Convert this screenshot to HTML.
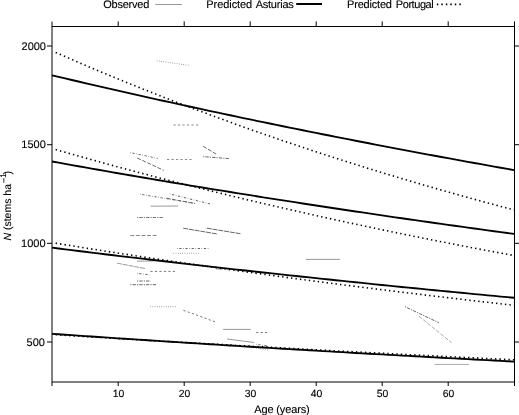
<!DOCTYPE html>
<html><head><meta charset="utf-8"><style>
html,body{margin:0;padding:0;background:#fff;}
body{width:519px;height:415px;overflow:hidden;}
svg{display:block;will-change:transform;font-family:"Liberation Sans",sans-serif;font-size:11px;text-rendering:geometricPrecision;}
</style></head><body>
<svg width="519" height="415" viewBox="0 0 519 415">
<defs><filter id="b" x="-5%" y="-20%" width="110%" height="140%"><feGaussianBlur stdDeviation="0.35"/></filter></defs>
<rect width="519" height="415" fill="#fff"/>
<g filter="url(#b)" stroke-width="1">
<line x1="156.8" y1="60.8" x2="189.7" y2="65.4" stroke="#666" stroke-dasharray="0.56 1.68"/>
<line x1="173.5" y1="125.0" x2="198.7" y2="125.0" stroke="#888" stroke-dasharray="2.24 2.24"/>
<line x1="130.3" y1="152.6" x2="157.7" y2="158.4" stroke="#666" stroke-dasharray="0.56 1.68 2.24 1.68"/>
<line x1="137.2" y1="158.0" x2="163.8" y2="170.4" stroke="#666" stroke-dasharray="3.92 1.68"/>
<line x1="167.0" y1="159.5" x2="192.4" y2="159.5" stroke="#888" stroke-dasharray="2.24 2.24"/>
<line x1="203.2" y1="146.3" x2="216.8" y2="154.5" stroke="#666" stroke-dasharray="3.92 1.68"/>
<line x1="203.2" y1="156.6" x2="229.9" y2="158.7" stroke="#666" stroke-dasharray="1.12 1.12 3.36 1.12"/>
<line x1="140.1" y1="194.2" x2="195.0" y2="203.4" stroke="#666" stroke-dasharray="0.56 1.68 2.24 1.68"/>
<line x1="166.4" y1="198.2" x2="194.9" y2="203.5" stroke="#666" stroke-dasharray="3.92 1.68"/>
<line x1="169.8" y1="194.0" x2="210.3" y2="204.0" stroke="#666" stroke-dasharray="0.56 1.68 2.24 1.68"/>
<line x1="150.5" y1="206.2" x2="178.0" y2="206.0" stroke="#999"/>
<line x1="137.1" y1="217.5" x2="163.8" y2="217.5" stroke="#777" stroke-dasharray="1.12 1.12 3.36 1.12"/>
<line x1="130.3" y1="235.5" x2="158.1" y2="235.5" stroke="#888" stroke-dasharray="3.92 1.68"/>
<line x1="183.2" y1="228.2" x2="217.3" y2="234.0" stroke="#666" stroke-dasharray="5 0.8"/>
<line x1="206.9" y1="228.2" x2="240.4" y2="233.7" stroke="#666" stroke-dasharray="5 0.8"/>
<line x1="177.0" y1="248.5" x2="209.0" y2="248.5" stroke="#666" stroke-dasharray="0.56 1.68 2.24 1.68"/>
<line x1="173.5" y1="253.3" x2="199.0" y2="253.3" stroke="#666" stroke-dasharray="0.56 1.68"/>
<line x1="117.2" y1="263.2" x2="144.9" y2="268.5" stroke="#999" stroke-dasharray="5 0.8"/>
<line x1="137.0" y1="261.2" x2="154.0" y2="260.9" stroke="#999"/>
<line x1="150.4" y1="271.4" x2="176.0" y2="271.4" stroke="#777" stroke-dasharray="2.24 2.24"/>
<line x1="137.1" y1="273.3" x2="149.6" y2="274.9" stroke="#666" stroke-dasharray="0.56 1.68 2.24 1.68"/>
<line x1="137.1" y1="281.0" x2="150.7" y2="281.0" stroke="#666" stroke-dasharray="1.12 1.12 3.36 1.12"/>
<line x1="130.3" y1="284.7" x2="157.1" y2="284.7" stroke="#666" stroke-dasharray="1.12 1.12 3.36 1.12"/>
<line x1="150.3" y1="306.7" x2="176.0" y2="306.7" stroke="#666" stroke-dasharray="0.56 1.68"/>
<line x1="183.4" y1="310.3" x2="215.9" y2="322.1" stroke="#777" stroke-dasharray="2.24 2.24"/>
<line x1="223.1" y1="329.4" x2="250.8" y2="329.4" stroke="#999"/>
<line x1="256.1" y1="332.5" x2="267.9" y2="332.5" stroke="#777" stroke-dasharray="2.24 2.24"/>
<line x1="227.0" y1="339.0" x2="254.3" y2="342.5" stroke="#999"/>
<line x1="256.1" y1="344.2" x2="268.0" y2="346.0" stroke="#666" stroke-dasharray="0.56 1.68 2.24 1.68"/>
<line x1="256.1" y1="348.3" x2="268.5" y2="350.0" stroke="#666" stroke-dasharray="0.56 1.68"/>
<line x1="216.0" y1="268.9" x2="223.0" y2="269.2" stroke="#aaa"/>
<line x1="305.9" y1="259.4" x2="339.9" y2="259.4" stroke="#999"/>
<line x1="405.0" y1="306.7" x2="438.8" y2="322.7" stroke="#666" stroke-dasharray="1.12 1.12 3.36 1.12"/>
<line x1="418.8" y1="316.1" x2="451.6" y2="342.7" stroke="#aaa" stroke-dasharray="3.92 1.68"/>
<line x1="434.4" y1="364.4" x2="468.9" y2="364.4" stroke="#aaa"/>
</g>
<g>
<path d="M52.00 75.31 L58.60 76.87 L65.20 78.43 L71.80 79.98 L78.40 81.52 L85.00 83.06 L91.60 84.59 L98.20 86.11 L104.80 87.63 L111.40 89.14 L118.00 90.64 L124.60 92.14 L131.20 93.63 L137.80 95.12 L144.40 96.60 L151.00 98.07 L157.60 99.54 L164.20 101.00 L170.80 102.45 L177.40 103.90 L184.00 105.34 L190.60 106.77 L197.20 108.20 L203.80 109.63 L210.40 111.04 L217.00 112.45 L223.60 113.86 L230.20 115.26 L236.80 116.65 L243.40 118.04 L250.00 119.42 L256.60 120.79 L263.20 122.16 L269.80 123.52 L276.40 124.88 L283.00 126.23 L289.60 127.58 L296.20 128.92 L302.80 130.25 L309.40 131.58 L316.00 132.90 L322.60 134.22 L329.20 135.53 L335.80 136.84 L342.40 138.14 L349.00 139.43 L355.60 140.72 L362.20 142.01 L368.80 143.28 L375.40 144.56 L382.00 145.82 L388.60 147.09 L395.20 148.34 L401.80 149.59 L408.40 150.84 L415.00 152.08 L421.60 153.32 L428.20 154.55 L434.80 155.77 L441.40 156.99 L448.00 158.20 L454.60 159.41 L461.20 160.62 L467.80 161.82 L474.40 163.01 L481.00 164.20 L487.60 165.38 L494.20 166.56 L500.80 167.73 L507.40 168.90 L514.00 170.06" fill="none" stroke="#000" stroke-width="1.85"/>
<path d="M52.00 161.50 L58.60 162.70 L65.20 163.88 L71.80 165.07 L78.40 166.25 L85.00 167.42 L91.60 168.59 L98.20 169.76 L104.80 170.91 L111.40 172.07 L118.00 173.22 L124.60 174.36 L131.20 175.50 L137.80 176.64 L144.40 177.77 L151.00 178.89 L157.60 180.01 L164.20 181.13 L170.80 182.24 L177.40 183.34 L184.00 184.44 L190.60 185.54 L197.20 186.63 L203.80 187.72 L210.40 188.80 L217.00 189.88 L223.60 190.95 L230.20 192.02 L236.80 193.08 L243.40 194.14 L250.00 195.20 L256.60 196.25 L263.20 197.29 L269.80 198.34 L276.40 199.37 L283.00 200.40 L289.60 201.43 L296.20 202.46 L302.80 203.48 L309.40 204.49 L316.00 205.50 L322.60 206.51 L329.20 207.51 L335.80 208.51 L342.40 209.50 L349.00 210.49 L355.60 211.48 L362.20 212.46 L368.80 213.43 L375.40 214.41 L382.00 215.37 L388.60 216.34 L395.20 217.30 L401.80 218.25 L408.40 219.21 L415.00 220.15 L421.60 221.10 L428.20 222.04 L434.80 222.97 L441.40 223.90 L448.00 224.83 L454.60 225.75 L461.20 226.67 L467.80 227.59 L474.40 228.50 L481.00 229.41 L487.60 230.31 L494.20 231.21 L500.80 232.11 L507.40 233.00 L514.00 233.89" fill="none" stroke="#000" stroke-width="1.85"/>
<path d="M52.00 247.69 L58.60 248.52 L65.20 249.34 L71.80 250.16 L78.40 250.98 L85.00 251.79 L91.60 252.60 L98.20 253.41 L104.80 254.21 L111.40 255.01 L118.00 255.80 L124.60 256.59 L131.20 257.38 L137.80 258.17 L144.40 258.95 L151.00 259.73 L157.60 260.50 L164.20 261.27 L170.80 262.04 L177.40 262.81 L184.00 263.57 L190.60 264.33 L197.20 265.08 L203.80 265.83 L210.40 266.58 L217.00 267.33 L223.60 268.07 L230.20 268.81 L236.80 269.55 L243.40 270.28 L250.00 271.01 L256.60 271.74 L263.20 272.46 L269.80 273.18 L276.40 273.90 L283.00 274.61 L289.60 275.32 L296.20 276.03 L302.80 276.74 L309.40 277.44 L316.00 278.14 L322.60 278.83 L329.20 279.53 L335.80 280.22 L342.40 280.90 L349.00 281.59 L355.60 282.27 L362.20 282.95 L368.80 283.62 L375.40 284.30 L382.00 284.97 L388.60 285.63 L395.20 286.30 L401.80 286.96 L408.40 287.62 L415.00 288.27 L421.60 288.93 L428.20 289.58 L434.80 290.22 L441.40 290.87 L448.00 291.51 L454.60 292.15 L461.20 292.79 L467.80 293.42 L474.40 294.05 L481.00 294.68 L487.60 295.30 L494.20 295.93 L500.80 296.55 L507.40 297.16 L514.00 297.78" fill="none" stroke="#000" stroke-width="1.85"/>
<path d="M52.00 333.81 L58.60 334.27 L65.20 334.72 L71.80 335.18 L78.40 335.63 L85.00 336.08 L91.60 336.53 L98.20 336.97 L104.80 337.42 L111.40 337.86 L118.00 338.30 L124.60 338.74 L131.20 339.17 L137.80 339.61 L144.40 340.04 L151.00 340.47 L157.60 340.90 L164.20 341.33 L170.80 341.75 L177.40 342.18 L184.00 342.60 L190.60 343.02 L197.20 343.44 L203.80 343.86 L210.40 344.27 L217.00 344.68 L223.60 345.09 L230.20 345.50 L236.80 345.91 L243.40 346.32 L250.00 346.72 L256.60 347.12 L263.20 347.52 L269.80 347.92 L276.40 348.32 L283.00 348.72 L289.60 349.11 L296.20 349.50 L302.80 349.89 L309.40 350.28 L316.00 350.67 L322.60 351.06 L329.20 351.44 L335.80 351.82 L342.40 352.20 L349.00 352.58 L355.60 352.96 L362.20 353.33 L368.80 353.71 L375.40 354.08 L382.00 354.45 L388.60 354.82 L395.20 355.19 L401.80 355.56 L408.40 355.92 L415.00 356.28 L421.60 356.65 L428.20 357.01 L434.80 357.36 L441.40 357.72 L448.00 358.08 L454.60 358.43 L461.20 358.78 L467.80 359.13 L474.40 359.48 L481.00 359.83 L487.60 360.18 L494.20 360.52 L500.80 360.87 L507.40 361.21 L514.00 361.55" fill="none" stroke="#000" stroke-width="1.85"/>
<path d="M52.99 51.23 L59.58 54.13 L66.16 57.01 L72.75 59.87 L79.33 62.71 L85.92 65.52 L92.51 68.32 L99.09 71.09 L105.68 73.84 L112.26 76.57 L118.85 79.28 L125.43 81.98 L132.02 84.65 L138.61 87.30 L145.19 89.93 L151.78 92.54 L158.36 95.14 L164.95 97.71 L171.54 100.26 L178.12 102.80 L184.71 105.32 L191.29 107.81 L197.88 110.29 L204.46 112.75 L211.05 115.20 L217.64 117.62 L224.22 120.03 L230.81 122.41 L237.39 124.78 L243.98 127.14 L250.57 129.47 L257.15 131.79 L263.74 134.09 L270.32 136.37 L276.91 138.64 L283.49 140.89 L290.08 143.12 L296.67 145.34 L303.25 147.54 L309.84 149.72 L316.42 151.89 L323.01 154.04 L329.60 156.17 L336.18 158.29 L342.77 160.40 L349.35 162.48 L355.94 164.55 L362.53 166.61 L369.11 168.65 L375.70 170.68 L382.28 172.69 L388.87 174.68 L395.45 176.67 L402.04 178.63 L408.63 180.58 L415.21 182.52 L421.80 184.44 L428.38 186.35 L434.97 188.25 L441.56 190.13 L448.14 191.99 L454.73 193.84 L461.31 195.68 L467.90 197.51 L474.48 199.32 L481.07 201.12 L487.66 202.90 L494.24 204.67 L500.83 206.43 L507.41 208.17 L514.00 209.90" fill="none" stroke="#000" stroke-width="1.6" stroke-dasharray="1.40 3.09" stroke-dashoffset="1.572"/>
<path d="M52.99 148.78 L59.58 150.67 L66.16 152.55 L72.75 154.42 L79.33 156.27 L85.92 158.12 L92.51 159.95 L99.09 161.77 L105.68 163.58 L112.26 165.37 L118.85 167.16 L125.43 168.93 L132.02 170.69 L138.61 172.44 L145.19 174.18 L151.78 175.91 L158.36 177.62 L164.95 179.33 L171.54 181.02 L178.12 182.70 L184.71 184.38 L191.29 186.04 L197.88 187.69 L204.46 189.33 L211.05 190.96 L217.64 192.57 L224.22 194.18 L230.81 195.78 L237.39 197.37 L243.98 198.95 L250.57 200.51 L257.15 202.07 L263.74 203.61 L270.32 205.15 L276.91 206.68 L283.49 208.19 L290.08 209.70 L296.67 211.20 L303.25 212.69 L309.84 214.16 L316.42 215.63 L323.01 217.09 L329.60 218.54 L336.18 219.98 L342.77 221.41 L349.35 222.83 L355.94 224.24 L362.53 225.65 L369.11 227.04 L375.70 228.42 L382.28 229.80 L388.87 231.17 L395.45 232.52 L402.04 233.87 L408.63 235.21 L415.21 236.55 L421.80 237.87 L428.38 239.18 L434.97 240.49 L441.56 241.79 L448.14 243.08 L454.73 244.36 L461.31 245.63 L467.90 246.89 L474.48 248.15 L481.07 249.40 L487.66 250.64 L494.24 251.87 L500.83 253.09 L507.41 254.31 L514.00 255.52" fill="none" stroke="#000" stroke-width="1.6" stroke-dasharray="1.40 3.09" stroke-dashoffset="1.746"/>
<path d="M52.99 242.76 L59.58 243.83 L66.16 244.90 L72.75 245.96 L79.33 247.01 L85.92 248.06 L92.51 249.10 L99.09 250.13 L105.68 251.17 L112.26 252.19 L118.85 253.21 L125.43 254.22 L132.02 255.23 L138.61 256.24 L145.19 257.23 L151.78 258.23 L158.36 259.21 L164.95 260.19 L171.54 261.17 L178.12 262.14 L184.71 263.11 L191.29 264.07 L197.88 265.02 L204.46 265.97 L211.05 266.92 L217.64 267.86 L224.22 268.79 L230.81 269.72 L237.39 270.65 L243.98 271.57 L250.57 272.48 L257.15 273.39 L263.74 274.30 L270.32 275.20 L276.91 276.09 L283.49 276.98 L290.08 277.87 L296.67 278.75 L303.25 279.62 L309.84 280.49 L316.42 281.36 L323.01 282.22 L329.60 283.08 L336.18 283.93 L342.77 284.78 L349.35 285.62 L355.94 286.46 L362.53 287.30 L369.11 288.13 L375.70 288.95 L382.28 289.77 L388.87 290.59 L395.45 291.40 L402.04 292.21 L408.63 293.01 L415.21 293.81 L421.80 294.60 L428.38 295.39 L434.97 296.18 L441.56 296.96 L448.14 297.74 L454.73 298.51 L461.31 299.28 L467.90 300.05 L474.48 300.81 L481.07 301.56 L487.66 302.32 L494.24 303.06 L500.83 303.81 L507.41 304.55 L514.00 305.28" fill="none" stroke="#000" stroke-width="1.6" stroke-dasharray="1.40 3.09" stroke-dashoffset="1.836"/>
<path d="M52.99 334.56 L59.58 334.97 L66.16 335.38 L72.75 335.79 L79.33 336.19 L85.92 336.60 L92.51 337.00 L99.09 337.40 L105.68 337.80 L112.26 338.20 L118.85 338.60 L125.43 338.99 L132.02 339.39 L138.61 339.78 L145.19 340.17 L151.78 340.56 L158.36 340.95 L164.95 341.33 L171.54 341.72 L178.12 342.10 L184.71 342.48 L191.29 342.86 L197.88 343.24 L204.46 343.62 L211.05 344.00 L217.64 344.37 L224.22 344.74 L230.81 345.12 L237.39 345.49 L243.98 345.85 L250.57 346.22 L257.15 346.59 L263.74 346.95 L270.32 347.31 L276.91 347.68 L283.49 348.04 L290.08 348.40 L296.67 348.75 L303.25 349.11 L309.84 349.46 L316.42 349.82 L323.01 350.17 L329.60 350.52 L336.18 350.87 L342.77 351.22 L349.35 351.56 L355.94 351.91 L362.53 352.25 L369.11 352.59 L375.70 352.94 L382.28 353.28 L388.87 353.61 L395.45 353.95 L402.04 354.29 L408.63 354.62 L415.21 354.96 L421.80 355.29 L428.38 355.62 L434.97 355.95 L441.56 356.28 L448.14 356.60 L454.73 356.93 L461.31 357.25 L467.90 357.58 L474.48 357.90 L481.07 358.22 L487.66 358.54 L494.24 358.86 L500.83 359.17 L507.41 359.49 L514.00 359.80" fill="none" stroke="#000" stroke-width="1.6" stroke-dasharray="1.40 3.09" stroke-dashoffset="1.874"/>
</g>
<g>
<line x1="52" y1="26.5" x2="514.5" y2="26.5" stroke="#000" stroke-width="1"/>
<line x1="514.5" y1="21.4" x2="514.5" y2="386" stroke="#000" stroke-width="1"/>
<line x1="52" y1="21.6" x2="52" y2="386" stroke="#000" stroke-width="1"/>
<line x1="52" y1="382" x2="514.5" y2="382" stroke="#000" stroke-width="1"/>
<line x1="118.2" y1="21.4" x2="118.2" y2="26" stroke="#000" stroke-width="1"/>
<line x1="118.2" y1="382" x2="118.2" y2="386" stroke="#000" stroke-width="1"/>
<line x1="184.2" y1="21.4" x2="184.2" y2="26" stroke="#000" stroke-width="1"/>
<line x1="184.2" y1="382" x2="184.2" y2="386" stroke="#000" stroke-width="1"/>
<line x1="250.2" y1="21.4" x2="250.2" y2="26" stroke="#000" stroke-width="1"/>
<line x1="250.2" y1="382" x2="250.2" y2="386" stroke="#000" stroke-width="1"/>
<line x1="316.2" y1="21.4" x2="316.2" y2="26" stroke="#000" stroke-width="1"/>
<line x1="316.2" y1="382" x2="316.2" y2="386" stroke="#000" stroke-width="1"/>
<line x1="382.2" y1="21.4" x2="382.2" y2="26" stroke="#000" stroke-width="1"/>
<line x1="382.2" y1="382" x2="382.2" y2="386" stroke="#000" stroke-width="1"/>
<line x1="448.2" y1="21.4" x2="448.2" y2="26" stroke="#000" stroke-width="1"/>
<line x1="448.2" y1="382" x2="448.2" y2="386" stroke="#000" stroke-width="1"/>
<line x1="47" y1="342.0" x2="52" y2="342.0" stroke="#000" stroke-width="1"/>
<line x1="514.5" y1="342.0" x2="519" y2="342.0" stroke="#000" stroke-width="1"/>
<line x1="47" y1="243.3" x2="52" y2="243.3" stroke="#000" stroke-width="1"/>
<line x1="514.5" y1="243.3" x2="519" y2="243.3" stroke="#000" stroke-width="1"/>
<line x1="47" y1="144.7" x2="52" y2="144.7" stroke="#000" stroke-width="1"/>
<line x1="514.5" y1="144.7" x2="519" y2="144.7" stroke="#000" stroke-width="1"/>
<line x1="47" y1="46.0" x2="52" y2="46.0" stroke="#000" stroke-width="1"/>
<line x1="514.5" y1="46.0" x2="519" y2="46.0" stroke="#000" stroke-width="1"/>
</g>
<g fill="#000" stroke="#000" stroke-width="0.12">
<text x="44.9" y="346" text-anchor="end">500</text>
<text x="45.6" y="247" text-anchor="end">1000</text>
<text x="45.8" y="148" text-anchor="end">1500</text>
<text x="46.0" y="50" text-anchor="end">2000</text>
<text x="118.60" y="397.3" text-anchor="middle" font-size="10.4">10</text>
<text x="184.60" y="397.3" text-anchor="middle" font-size="10.4">20</text>
<text x="250.60" y="397.3" text-anchor="middle" font-size="10.4">30</text>
<text x="316.60" y="397.3" text-anchor="middle" font-size="10.4">40</text>
<text x="382.60" y="397.3" text-anchor="middle" font-size="10.4">50</text>
<text x="448.60" y="397.3" text-anchor="middle" font-size="10.4">60</text>
<text x="254.28" y="413" textLength="55.4" lengthAdjust="spacing">Age (years)</text>
<text transform="translate(10.9,240.6) rotate(-90)" font-size="10.5"><tspan font-style="italic">N</tspan> (stems ha</text>
<text transform="translate(7.4,183.2) rotate(-90)" font-size="9.5">−</text>
<text transform="translate(5.9,177.8) rotate(-90)" font-size="8.2">1</text>
<text transform="translate(11.3,174.6) rotate(-90)">)</text>
<text x="103.28" y="8" textLength="46.03" lengthAdjust="spacing">Observed</text>
<line x1="155.4" y1="4.5" x2="182" y2="4.5" stroke="#999" stroke-width="1"/>
<text x="206.30" y="8" textLength="45.91" lengthAdjust="spacing">Predicted</text>
<text x="255.68" y="8" textLength="38.12" lengthAdjust="spacing">Asturias</text>
<line x1="296.2" y1="4" x2="322" y2="4" stroke="#000" stroke-width="2"/>
<text x="347.10" y="8" textLength="44.81" lengthAdjust="spacing">Predicted</text>
<text x="395.80" y="8" textLength="37.94" lengthAdjust="spacing">Portugal</text>
<line x1="436.8" y1="4.4" x2="461.5" y2="4.4" stroke="#000" stroke-width="1.6" stroke-dasharray="1.5 3"/>
</g>
</svg>
</body></html>
